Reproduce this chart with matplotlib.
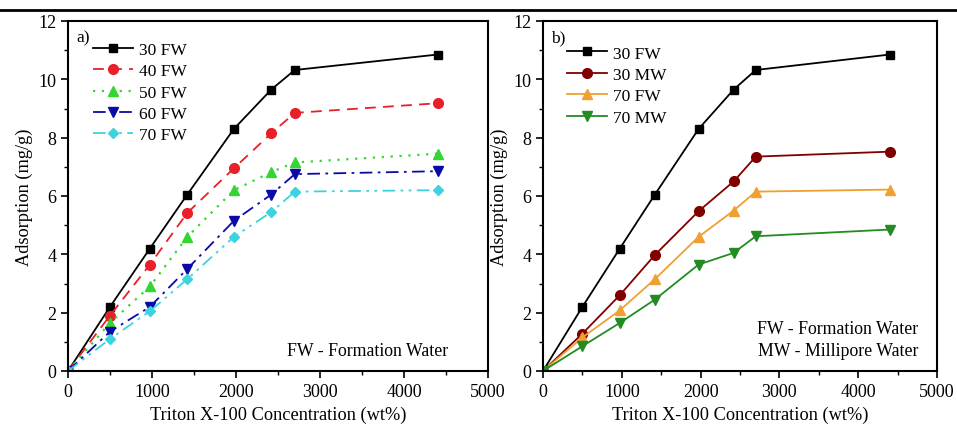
import numpy as np
import matplotlib.pyplot as plt
from matplotlib.lines import Line2D
from matplotlib.ticker import MultipleLocator

plt.rcParams['font.family'] = ['Liberation Serif', 'DejaVu Serif']
plt.rcParams['font.size'] = 12

conc = [0, 500, 975, 1420, 1975, 2420, 2700, 4400]

fw30 = [0, 2.2, 4.2, 6.05, 8.3, 9.65, 10.32, 10.85]
fw40 = [0, 1.9, 3.65, 5.42, 6.95, 8.15, 8.85, 9.18]
fw50 = [0, 1.65, 2.9, 4.6, 6.2, 6.82, 7.15, 7.45]
fw60 = [0, 1.35, 2.2, 3.5, 5.15, 6.05, 6.75, 6.85]
fw70 = [0, 1.1, 2.05, 3.15, 4.6, 5.45, 6.15, 6.2]

mw30 = [0, 1.28, 2.6, 3.98, 5.48, 6.5, 7.35, 7.52]
fw70b = [0, 1.15, 2.08, 3.15, 4.6, 5.5, 6.15, 6.22]
mw70 = [0, 0.85, 1.65, 2.45, 3.65, 4.05, 4.62, 4.85]

fig = plt.figure(figsize=(9.57, 4.35), dpi=100)
ax1 = fig.add_axes([68 / 957, 63 / 435, 420 / 957, 350 / 435])
ax2 = fig.add_axes([543 / 957, 63 / 435, 394 / 957, 350 / 435])

fig.add_artist(Line2D([0, 1], [1 - 11 / 435, 1 - 11 / 435], color='black', lw=2))

ms = 6
ax1.plot(conc, fw30, color='black', ls='-', marker='s', ms=ms, lw=1.3, label='30 FW')
ax1.plot(conc, fw40, color='#e8202a', ls=(0, (6, 4)), marker='o', ms=ms + 1, lw=1.3, label='40 FW')
ax1.plot(conc, fw50, color='#33d633', ls=(0, (1, 3)), marker='^', ms=ms + 1, lw=1.6, label='50 FW')
ax1.plot(conc, fw60, color='#0a0aa8', ls=(0, (7, 3, 1.5, 3)), marker='v', ms=ms + 1, lw=1.3, label='60 FW')
ax1.plot(conc, fw70, color='#3cd2e0', ls=(0, (7, 3, 1.5, 3, 1.5, 3)), marker='D', ms=ms - 0.5, lw=1.3, label='70 FW')

ax2.plot(conc, fw30, color='black', marker='s', ms=ms, lw=1.3, label='30 FW')
ax2.plot(conc, mw30, color='#800000', marker='o', ms=ms + 1, lw=1.3, label='30 MW')
ax2.plot(conc, fw70b, color='#f0a030', marker='^', ms=ms + 1, lw=1.3, label='70 FW')
ax2.plot(conc, mw70, color='#228b22', marker='v', ms=ms + 1, lw=1.3, label='70 MW')

for ax, tag, leg_y in [(ax1, 'a)', 0.975), (ax2, 'b)', 0.965)]:
    ax.set_xlim(0, 5000)
    ax.set_ylim(0, 12)
    ax.xaxis.set_major_locator(MultipleLocator(1000))
    ax.xaxis.set_minor_locator(MultipleLocator(500))
    ax.yaxis.set_major_locator(MultipleLocator(2))
    ax.yaxis.set_minor_locator(MultipleLocator(1))
    ax.tick_params(which='major', direction='out', length=5, width=1.2, labelsize=13)
    ax.tick_params(which='minor', direction='out', length=3, width=1.0)
    for s in ax.spines.values():
        s.set_linewidth(1.5)
    ax.set_xlabel('Triton X-100 Concentration (wt%)', fontsize=13.2, labelpad=4)
    ax.set_ylabel('Adsorption (mg/g)', fontsize=13.2)
    ax.text(0.02, 0.975, tag, transform=ax.transAxes, ha='left', va='top', fontsize=12.5)
    ax.legend(loc='upper left', bbox_to_anchor=(0.03, leg_y), frameon=False,
              handlelength=2.3, handletextpad=0.35, labelspacing=0.3, fontsize=12.5,
              borderaxespad=0.3)

ax1.text(0.905, 0.035, 'FW - Formation Water', transform=ax1.transAxes, ha='right', va='bottom', fontsize=12.8)
ax2.text(0.952, 0.035, 'FW - Formation Water\nMW - Millipore Water', transform=ax2.transAxes,
         ha='right', va='bottom', fontsize=12.8, linespacing=1.35)

fig.savefig('out.png', dpi=100)
